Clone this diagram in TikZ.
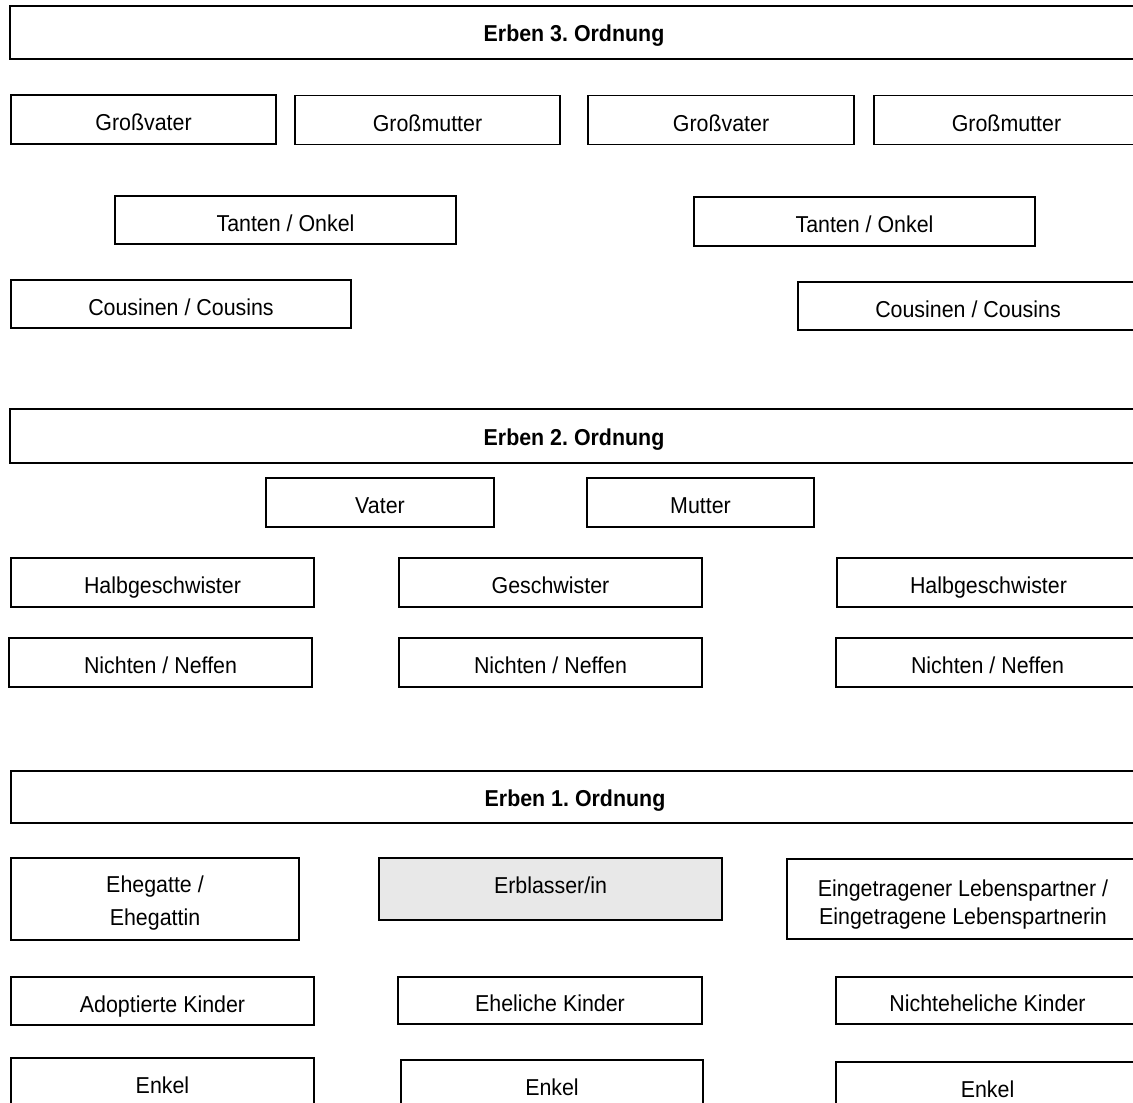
\documentclass[tikz,border=0pt]{standalone}
\usepackage{fontspec}
\setmainfont{Liberation Sans}[FakeStretch=0.93]
\definecolor{erbgray}{HTML}{E8E8E8}
\tikzset{
  box/.style={draw=black, line width=1.2pt, inner sep=0pt, outer sep=0pt,
    font=\fontsize{23}{28}\selectfont\frenchspacing, text height=22.4pt, text depth=0pt},
  titlebox/.style={box, font=\fontsize{23}{28}\selectfont\bfseries\frenchspacing, text height=18.4pt},
  twoline/.style={box, text height=0pt},
  erbbox/.style={box, line width=2.6pt, fill=erbgray, text height=8.4pt}
}
\begin{document}
\begin{tikzpicture}[x=1pt,y=-1pt]
\useasboundingbox (0,0) rectangle (1133,1103);
\clip (0,0) rectangle (1133,1103);
% Erben 3. Ordnung
\node[titlebox, minimum width=1128pt, minimum height=53pt] (bar3) at (574,32.5) {Erben 3. Ordnung};
\node[box, minimum width=265pt, minimum height=49pt] (gv1) at (143.5,119.5) {Großvater};
\node[box, minimum width=265pt, minimum height=49pt] (gm1) at (427.5,120) {Großmutter};
\node[box, minimum width=266pt, minimum height=49pt] (gv2) at (721,120) {Großvater};
\node[box, minimum width=265pt, minimum height=49pt] (gm2) at (1006.5,120) {Großmutter};
\node[box, minimum width=341pt, minimum height=48pt] (to1) at (285.5,220) {Tanten / Onkel};
\node[box, minimum width=341pt, minimum height=49pt] (to2) at (864.5,221.5) {Tanten / Onkel};
\node[box, minimum width=340pt, minimum height=48pt] (co1) at (181,304) {Cousinen / Cousins};
\node[box, minimum width=340pt, minimum height=48pt] (co2) at (968,306) {Cousinen / Cousins};
% Erben 2. Ordnung
\node[titlebox, minimum width=1128pt, minimum height=54pt] (bar2) at (574,436) {Erben 2. Ordnung};
\node[box, minimum width=228pt, minimum height=49pt] (vater) at (380,502.5) {Vater};
\node[box, minimum width=227pt, minimum height=49pt] (mutter) at (700.5,502.5) {Mutter};
\node[box, minimum width=303pt, minimum height=49pt] (hg1) at (162.5,582.5) {Halbgeschwister};
\node[box, minimum width=303pt, minimum height=49pt] (gs) at (550.5,582.5) {Geschwister};
\node[box, minimum width=303pt, minimum height=49pt] (hg2) at (988.5,582.5) {Halbgeschwister};
\node[box, minimum width=303pt, minimum height=49pt] (nn1) at (160.5,662.5) {Nichten / Neffen};
\node[box, minimum width=303pt, minimum height=49pt] (nn2) at (550.5,662.5) {Nichten / Neffen};
\node[box, minimum width=303pt, minimum height=49pt] (nn3) at (987.5,662.5) {Nichten / Neffen};
% Erben 1. Ordnung
\node[titlebox, minimum width=1128pt, minimum height=52pt] (bar1) at (575,797) {Erben 1. Ordnung};
\node[twoline, text depth=12.5pt, font=\fontsize{23}{33}\selectfont, minimum width=288pt, minimum height=82pt] (ehe) at (155,899)
  {\begin{tabular}[t]{@{}c@{}}Ehegatte /\\Ehegattin\end{tabular}};
\node[erbbox, minimum width=343pt, minimum height=62pt] (erb) at (550.5,889) {Erblasser/in};
\node[twoline, text depth=5.5pt, font=\fontsize{23}{28}\selectfont, minimum width=352pt, minimum height=80pt] (eing) at (963,899)
  {\begin{tabular}[t]{@{}c@{}}Eingetragener Lebenspartner /\\Eingetragene Lebenspartnerin\end{tabular}};
\node[box, minimum width=303pt, minimum height=48pt] (ad) at (162.5,1001) {Adoptierte Kinder};
\node[box, minimum width=304pt, minimum height=47pt] (eh) at (550,1000.5) {Eheliche Kinder};
\node[box, minimum width=303pt, minimum height=47pt] (ne) at (987.5,1000.5) {Nichteheliche Kinder};
\node[box, minimum width=303pt, minimum height=49pt] (en1) at (162.5,1082.5) {Enkel};
\node[box, minimum width=302pt, minimum height=49pt] (en2) at (552,1084.5) {Enkel};
\node[box, minimum width=303pt, minimum height=49pt] (en3) at (987.5,1086.5) {Enkel};
\end{tikzpicture}
\end{document}
